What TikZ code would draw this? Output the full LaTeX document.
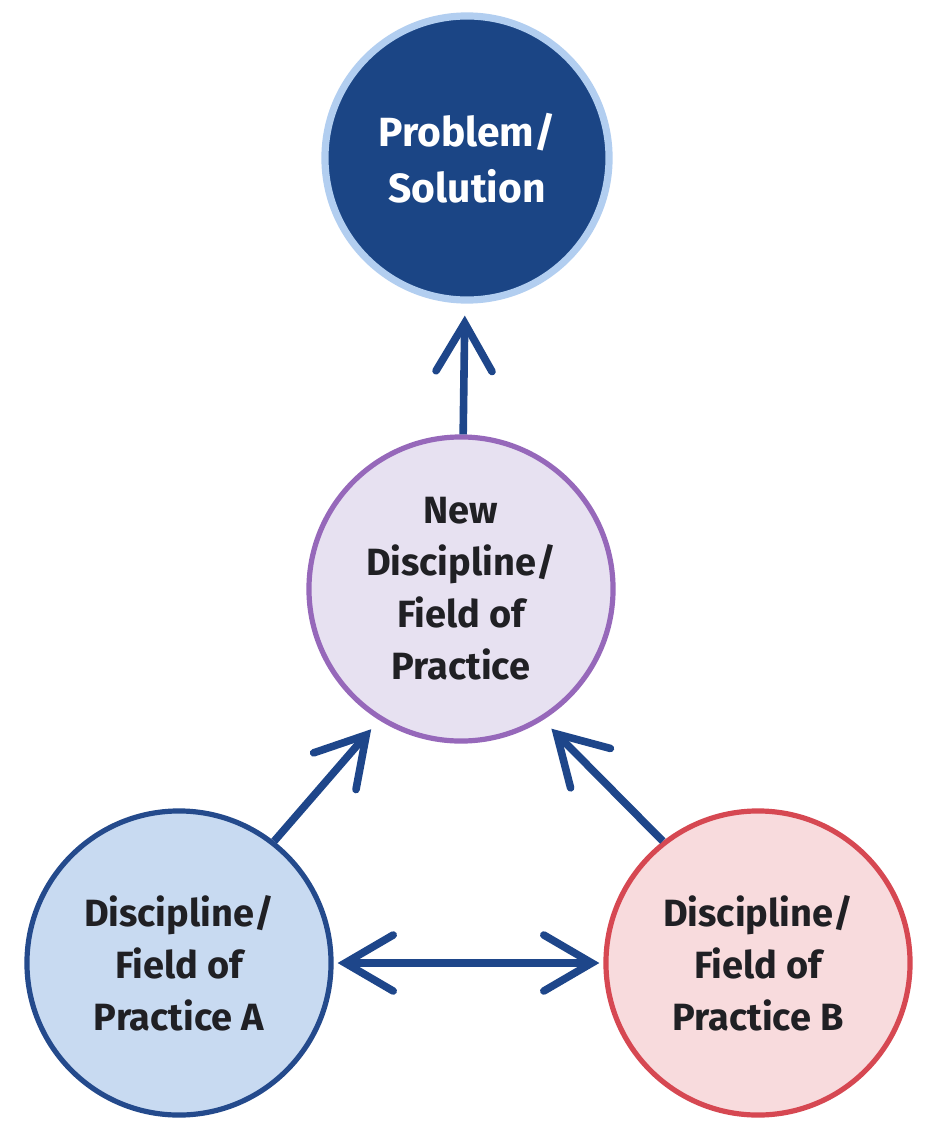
\documentclass[tikz,border=0pt]{standalone}
\usepackage{fontspec}
\setmainfont{Fira Sans}
\usetikzlibrary{arrows.meta}
\definecolor{navyfill}{RGB}{27, 69, 133}
\definecolor{navyglow}{RGB}{178, 206, 240}
\definecolor{linkblue}{RGB}{30, 70, 138}
\definecolor{newpurple}{RGB}{150, 104, 186}
\definecolor{newfill}{RGB}{231, 225, 241}
\definecolor{afill}{RGB}{200, 218, 241}
\definecolor{aborder}{RGB}{36, 74, 140}
\definecolor{bfill}{RGB}{248, 219, 221}
\definecolor{bborder}{RGB}{214, 72, 82}
\definecolor{labeldark}{RGB}{32, 32, 36}

\begin{document}
\begin{tikzpicture}[x=0.025cm, y=-0.025cm,
  disc/.style={circle, line width=1.3mm, minimum size=7.6cm, inner sep=0pt, align=center, text=labeldark, font=\fontsize{27}{37}\selectfont\bfseries},
  barb/.tip={Straight Barb[length=12mm, width=14mm, line cap=round]},
  link/.style={draw=linkblue, line width=1.9mm, -barb}
]
  \useasboundingbox (0, 0) rectangle (925, 1123);

  % The four circles
  \node[disc, minimum size=7.1cm, draw=navyglow, line width=1.8mm, fill=navyfill, text=white, font=\fontsize{29}{40}\selectfont\bfseries] (goal) at (467, 158) {Problem/\\Solution};
  \node[disc, draw=newpurple, fill=newfill] (newfield) at (461, 589) {New\\Discipline/\\Field of\\Practice};
  \node[disc, draw=aborder, fill=afill] (fielda) at (179, 963) {Discipline/\\Field of\\Practice A};
  \node[disc, draw=bborder, fill=bfill] (fieldb) at (758, 963) {Discipline/\\Field of\\Practice B};

  % Connections
  \draw[link, shorten >=3mm] (newfield) -- (goal);
  \draw[link, shorten >=3mm] (fielda.52) -- (newfield.238);
  \draw[link, shorten >=3mm] (fieldb.128) -- (newfield.302);
  \draw[link, barb-barb, shorten <=1mm, shorten >=1mm] (fielda) -- (fieldb);
\end{tikzpicture}
\end{document}
